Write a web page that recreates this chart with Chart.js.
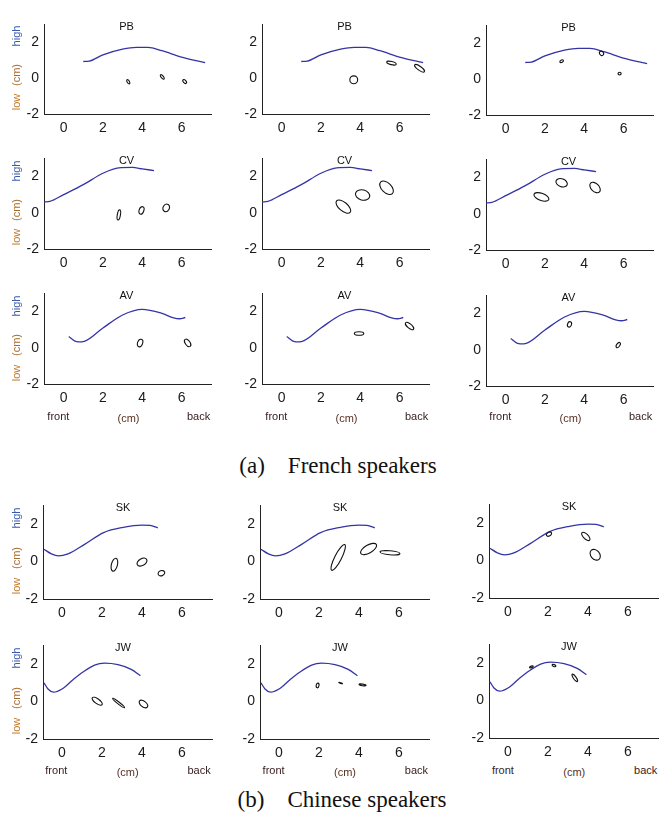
<!DOCTYPE html>
<html>
<head>
<meta charset="utf-8">
<script src="https://cdn.jsdelivr.net/npm/chart.js@4.4.1/dist/chart.umd.min.js"></script>
<style>
  body { margin: 0; background: #fff; width: 659px; height: 816px; position: relative; overflow: hidden; font-family: Arial, "Liberation Sans", sans-serif; }
  canvas { position: absolute; }
  .lbl { position: absolute; font-size: 11px; white-space: nowrap; transform: translate(-50%, -50%); }
  .side { transform: translate(-50%, -50%) rotate(-90deg); }
  .cap { position: absolute; font-family: "Liberation Serif", "Times New Roman", serif; font-size: 23px; line-height: 26px; color: #111; white-space: pre; transform: translateX(-50%); }
</style>
</head>
<body>
<script>
"use strict";

// 1: data
let xTicks = [0, 2, 4, 6];
let yTicks = [-2, 0, 2];

// palate outline per speaker, [front-back cm, low-high cm]
let pbPalate = [[1.0, 0.93], [1.3, 0.95], [2.0, 1.3], [3.0, 1.62], [3.7, 1.72], [4.3, 1.72], [5.0, 1.53], [6.0, 1.18], [7.2, 0.87]];
let cvPalate = [[-1.0, 0.6], [-0.7, 0.63], [0, 1.0], [1, 1.55], [2, 2.18], [2.8, 2.48], [3.5, 2.5], [4, 2.42], [4.6, 2.33]];
let avPalate = [[0.26, 0.62], [0.55, 0.38], [0.75, 0.32], [1.05, 0.35], [2, 1.09], [3, 1.81], [4, 2.12], [5, 1.9], [5.6, 1.65], [5.9, 1.6], [6.19, 1.67]];
let skPalate = [[-0.9, 0.66], [-0.53, 0.41], [-0.17, 0.3], [0.3, 0.41], [1.13, 0.92], [2.08, 1.55], [3.06, 1.83], [4.0, 1.95], [4.4, 1.93], [4.79, 1.8]];
let jwPalate = [[-0.9, 1.0], [-0.7, 0.67], [-0.42, 0.5], [0, 0.67], [0.55, 1.17], [1.05, 1.58], [1.63, 1.95], [2.13, 2.05], [2.8, 1.97], [3.46, 1.72], [3.92, 1.38]];

// ellipses: [centre x, centre y, half length, half width, tilt deg]
let pbCol1 = [[3.29, -0.2, 0.12, 0.06, -60], [5.02, 0.07, 0.14, 0.06, -50], [6.16, -0.19, 0.12, 0.07, -50]];
let pbCol2 = [[3.67, -0.09, 0.2, 0.2, 0], [5.59, 0.84, 0.25, 0.08, -15], [7.02, 0.55, 0.3, 0.1, -35]];
let pbCol3 = [[2.85, 1.0, 0.1, 0.06, 30], [4.88, 1.44, 0.12, 0.1, -60], [5.8, 0.31, 0.08, 0.07, 0]];
let cvCol1 = [[2.81, -0.12, 0.26, 0.08, 80], [3.96, 0.13, 0.2, 0.12, 70], [5.22, 0.27, 0.2, 0.16, 60]];
let cvCol2 = [[3.14, 0.34, 0.45, 0.22, -40], [4.12, 0.98, 0.37, 0.26, -15], [5.34, 1.38, 0.42, 0.25, -45]];
let cvCol3 = [[1.82, 0.93, 0.4, 0.18, -20], [2.85, 1.71, 0.3, 0.2, -20], [4.55, 1.45, 0.32, 0.2, -45]];
let avCol1 = [[3.89, 0.26, 0.2, 0.13, 70], [6.31, 0.27, 0.22, 0.12, -55]];
let avCol2 = [[3.94, 0.79, 0.24, 0.09, 0], [6.51, 1.2, 0.26, 0.11, -40]];
let avCol3 = [[3.25, 1.4, 0.14, 0.1, 70], [5.73, 0.26, 0.15, 0.08, 55]];
let skCol1 = [[2.62, -0.17, 0.33, 0.15, 75], [4.0, -0.03, 0.27, 0.17, 30], [4.97, -0.62, 0.17, 0.13, 20]];
let skCol2 = [[2.96, 0.22, 0.72, 0.17, 63], [4.48, 0.67, 0.45, 0.2, 30], [5.55, 0.47, 0.5, 0.1, -5]];
let skCol3 = [[2.05, 1.41, 0.14, 0.09, 30], [3.89, 1.29, 0.27, 0.12, -45], [4.36, 0.31, 0.3, 0.22, -50]];
let jwCol1 = [[1.76, 0.02, 0.3, 0.12, -35], [2.83, -0.08, 0.38, 0.05, -38], [4.07, -0.13, 0.25, 0.14, -40]];
let jwCol2 = [[1.93, 0.86, 0.12, 0.07, 80], [3.08, 0.99, 0.1, 0.02, -20], [4.18, 0.89, 0.18, 0.04, -10]];
let jwCol3 = [[1.17, 1.8, 0.1, 0.04, 20], [2.3, 1.87, 0.1, 0.05, -20], [3.34, 1.21, 0.22, 0.07, -55]];

// 2: layout of the 5 x 3 grid
let frenchCols = [44, 262, 486];
let chineseCols = [42.7, 260, 489.3];
let rows = [
  { name: "PB", palate: pbPalate, ell: [pbCol1, pbCol2, pbCol3], top: 16.5, h: 97.5, cols: frenchCols, dy: [0, 0.5, 1.5], xmin: -1, w: 167, tx: 3.2 },
  { name: "CV", palate: cvPalate, ell: [cvCol1, cvCol2, cvCol3], top: 151, h: 98, cols: frenchCols, dy: [0, 0, 1], xmin: -1, w: 167, tx: 3.2 },
  { name: "AV", palate: avPalate, ell: [avCol1, avCol2, avCol3], top: 286, h: 98.5, cols: frenchCols, dy: [0, 0, 1.5], xmin: -1, w: 167, tx: 3.2 },
  { name: "SK", palate: skPalate, ell: [skCol1, skCol2, skCol3], top: 497.5, h: 101, cols: chineseCols, dy: [0, 0, -1], xmin: -0.95, w: 169, tx: 3.05 },
  { name: "JW", palate: jwPalate, ell: [jwCol1, jwCol2, jwCol3], top: 637.5, h: 101, cols: chineseCols, dy: [0, 0, -0.5], xmin: -0.95, w: 169, tx: 3.05 }
];

let yAxisW = 32, xAxisH = 26, padT = 6, padR = 6;

// draws the ellipses and the speaker name inside the plot
function extrasPlugin(row, ellipses) {
  return {
    id: "extras",
    afterDatasetsDraw(chart) {
      let ctx = chart.ctx;
      let x = chart.scales.x, y = chart.scales.y;
      let k = x.getPixelForValue(1) - x.getPixelForValue(0);
      ctx.save();
      ctx.strokeStyle = "#111";
      ctx.lineWidth = 1.1;
      for (const e of ellipses) {
        ctx.beginPath();
        ctx.ellipse(x.getPixelForValue(e[0]), y.getPixelForValue(e[1]), e[2] * k, e[3] * k, -e[4] * Math.PI / 180, 0, 2 * Math.PI);
        ctx.stroke();
      }
      ctx.fillStyle = "#111";
      ctx.font = "11px Arial";
      ctx.textAlign = "center";
      ctx.textBaseline = "middle";
      ctx.fillText(row.name, x.getPixelForValue(row.tx), chart.chartArea.top + 3);
      ctx.restore();
    }
  };
}

function makePanel(row, c) {
  let cv = document.createElement("canvas");
  let W = yAxisW + row.w + padR, H = padT + row.h + xAxisH;
  cv.width = W;
  cv.height = H;
  cv.style.left = (row.cols[c] - yAxisW) + "px";
  cv.style.top = (row.top + row.dy[c] - padT) + "px";
  document.body.appendChild(cv);
  let tickFont = { family: "Arial", size: 14 };
  new Chart(cv, {
    type: "scatter",
    data: {
      datasets: [{
        data: row.palate.map(p => ({ x: p[0], y: p[1] })),
        showLine: true,
        borderColor: "#3434a6",
        borderWidth: 1.3,
        pointRadius: 0,
        cubicInterpolationMode: "monotone",
        fill: false
      }]
    },
    options: {
      responsive: false,
      animation: false,
      layout: { padding: { top: padT, right: padR, left: 0, bottom: 0 } },
      plugins: { legend: { display: false }, tooltip: { enabled: false } },
      scales: {
        x: {
          type: "linear", min: row.xmin, max: 7.5,
          afterBuildTicks: s => { s.ticks = xTicks.map(v => ({ value: v })); },
          afterFit: s => { s.height = xAxisH; },
          grid: { display: false, drawTicks: false },
          border: { display: true, color: "#222", width: 1 },
          ticks: { padding: 6, font: tickFont, color: "#1a1a1a", maxRotation: 0 }
        },
        y: {
          type: "linear", min: -2, max: 3,
          afterBuildTicks: s => { s.ticks = yTicks.map(v => ({ value: v })); },
          afterFit: s => { s.width = yAxisW; },
          grid: { display: false, drawTicks: false },
          border: { display: true, color: "#222", width: 1 },
          ticks: { padding: 5, font: tickFont, color: "#1a1a1a" }
        }
      }
    },
    plugins: [extrasPlugin(row, row.ell[c])]
  });
}

function addLabel(text, cx, cy, color, cls) {
  let d = document.createElement("div");
  d.className = "lbl" + (cls ? " " + cls : "");
  d.textContent = text;
  d.style.left = cx + "px";
  d.style.top = cy + "px";
  d.style.color = color;
  document.body.appendChild(d);
}

// 3: draw everything
rows.forEach((row, r) => {
  for (let c = 0; c < 3; c++) makePanel(row, c);
  let py = v => row.top + (3 - v) * row.h / 5;
  addLabel("high", 16, py(2), "#3a5aa8", "side");
  addLabel("(cm)", 16, py(0), "#a86a2a", "side");
  addLabel("low", 16, py(-1.4), "#c07a2a", "side");
  if (r === 2 || r === 4) {
    let k = row.w / (7.5 - row.xmin);
    for (let c = 0; c < 3; c++) {
      let px = v => row.cols[c] + (v - row.xmin) * k;
      addLabel("front", px(-0.27), row.top + row.h + 31, "#3a2222");
      addLabel("(cm)", px(3.3), row.top + row.h + 33, "#5a3020");
      addLabel("back", px(6.87), row.top + row.h + 31, "#3a2222");
    }
  }
});

let capA = document.createElement("div");
capA.className = "cap";
capA.textContent = "(a)    French speakers";
capA.style.left = "338px";
capA.style.top = "453px";
document.body.appendChild(capA);

let capB = document.createElement("div");
capB.className = "cap";
capB.textContent = "(b)    Chinese speakers";
capB.style.left = "342px";
capB.style.top = "787px";
document.body.appendChild(capB);
</script>
</body>
</html>
